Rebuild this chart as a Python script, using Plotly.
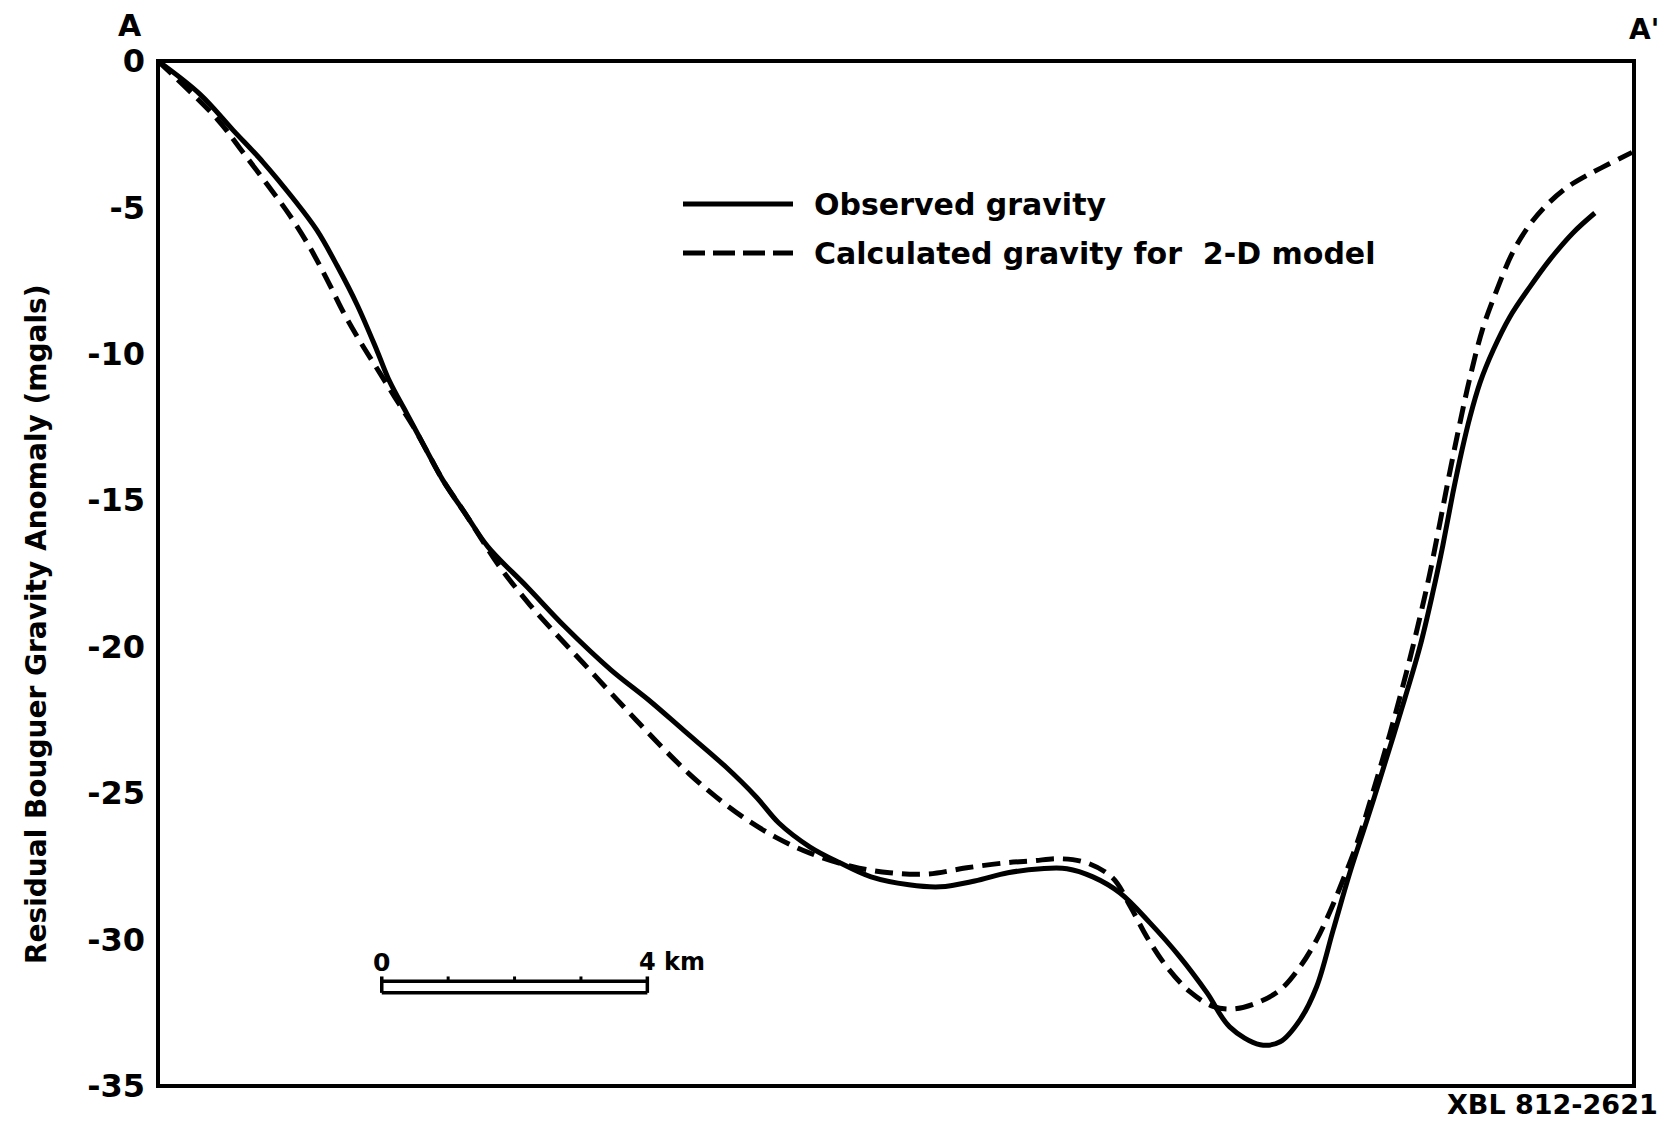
import plotly.graph_objects as go

# ---------------- data (distance along profile A-A' in km, anomaly in mGal) ----------------
obs_x = [0.00, 0.63, 1.13, 1.58, 2.03, 2.39, 2.70, 3.00, 3.30, 3.49, 3.75, 4.05, 4.29, 4.65,
         4.97, 5.56, 6.13, 6.82, 7.39, 7.91, 8.55, 9.01, 9.35, 9.82, 10.27, 10.74, 11.31,
         11.78, 12.30, 12.80, 13.30, 13.69, 14.08, 14.49, 14.94, 15.39, 15.80, 16.14, 16.60,
         16.90, 17.20, 17.45, 17.70, 17.95, 18.21, 18.40, 18.70, 19.00, 19.20, 19.35, 19.50,
         19.64, 19.76, 19.91, 20.11, 20.36, 20.66, 20.96, 21.31, 21.64]
obs_y = [0.00, -1.13, -2.36, -3.45, -4.68, -5.77, -7.00, -8.33, -9.90, -10.95, -12.05, -13.32,
         -14.31, -15.53, -16.59, -17.96, -19.32, -20.79, -21.82, -22.84, -24.10, -25.13, -26.02,
         -26.84, -27.38, -27.86, -28.13, -28.20, -28.00, -27.72, -27.58, -27.58, -27.86, -28.41,
         -29.43, -30.59, -31.82, -32.98, -33.59, -33.49, -32.74, -31.61, -29.67, -27.72, -25.91,
         -24.55, -22.35, -20.05, -18.15, -16.55, -14.78, -13.28, -12.15, -10.99, -9.87, -8.74,
         -7.72, -6.79, -5.87, -5.19]

calc_x = [0.00, 0.89, 1.23, 1.64, 1.99, 2.29, 2.55, 2.79, 3.04, 3.34, 3.60, 3.85, 4.05, 4.29,
          4.65, 4.89, 5.15, 5.60, 6.00, 6.40, 6.80, 7.20, 7.60, 8.00, 8.40, 8.80, 9.30, 9.82,
          10.45, 11.02, 11.60, 12.18, 12.76, 13.18, 13.58, 13.99, 14.38, 14.64, 14.89, 15.20,
          15.54, 15.89, 16.19, 16.55, 16.90, 17.20, 17.45, 17.65, 17.85, 18.06, 18.30, 18.55,
          18.80, 19.00, 19.15, 19.30, 19.45, 19.60, 19.75, 19.95, 20.15, 20.40, 20.65, 20.90,
          21.20, 21.50, 21.85, 22.20]
calc_y = [0.00, -1.98, -2.97, -4.20, -5.29, -6.38, -7.48, -8.57, -9.56, -10.65, -11.60, -12.50,
          -13.32, -14.31, -15.53, -16.39, -17.28, -18.57, -19.58, -20.55, -21.53, -22.50, -23.45,
          -24.34, -25.12, -25.80, -26.50, -27.05, -27.50, -27.72, -27.76, -27.55, -27.38, -27.31,
          -27.24, -27.38, -27.90, -28.85, -29.90, -30.95, -31.78, -32.28, -32.37, -32.16, -31.72,
          -30.93, -30.01, -29.05, -27.95, -26.70, -24.95, -23.00, -20.90, -19.05, -17.55, -15.85,
          -14.10, -12.45, -10.90, -9.15, -7.90, -6.55, -5.62, -4.95, -4.35, -3.93, -3.52, -3.12]

y_tick_vals = [0, -5, -10, -15, -20, -25, -30, -35]
y_tick_text = ["0", "-5", "-10", "-15", "-20", "-25", "-30", "-35"]
x_range = [0, 22.23]
y_range = [-35, 0]

series_names = ["Observed gravity", "Calculated gravity for  2-D model"]
y_title = "Residual Bouguer Gravity Anomaly (mgals)"
corner_left = "A"
corner_right = "A'"
figure_id = "XBL 812-2621"

scale_start_km = 3.37
scale_length_km = 4
scale_ticks_km = [1, 2, 3]
scale_y_top = -31.42
scale_y_bottom = -31.82
scale_tick_top = -31.26

# ---------------- layout geometry ----------------
W, H = 1663, 1128
L, R, T, B = 158, 29, 61, 42
PW, PH = W - L - R, H - T - B
FONT = "DejaVu Sans"


def px(x):
    return (x - L) / PW


def py(y):
    return (H - B - y) / PH


fig = go.Figure()
fig.add_trace(go.Scatter(x=obs_x, y=obs_y, mode="lines", name=series_names[0],
                         line=dict(color="black", width=5, shape="spline", smoothing=1.0),
                         showlegend=False))
fig.add_trace(go.Scatter(x=calc_x, y=calc_y, mode="lines", name=series_names[1],
                         line=dict(color="black", width=5, dash="18px,9px", shape="spline",
                                   smoothing=1.0),
                         showlegend=False))

shapes = []
# plot frame
shapes.append(dict(type="rect", xref="paper", yref="paper", x0=0, x1=1, y0=0, y1=1,
                   line=dict(color="black", width=4), layer="above"))
# legend samples
shapes.append(dict(type="line", xref="paper", yref="paper", x0=px(683), x1=px(793),
                   y0=py(204), y1=py(204), line=dict(color="black", width=5)))
shapes.append(dict(type="line", xref="paper", yref="paper", x0=px(683), x1=px(793),
                   y0=py(253), y1=py(253), line=dict(color="black", width=5, dash="22px,8px")))
# scale bar (in km along the profile)
sx0 = scale_start_km
sx1 = scale_start_km + scale_length_km
for yy in (scale_y_top, scale_y_bottom):
    shapes.append(dict(type="line", xref="x", yref="y", x0=sx0, x1=sx1, y0=yy, y1=yy,
                       line=dict(color="black", width=3.5)))
for xx in (sx0, sx1):
    shapes.append(dict(type="line", xref="x", yref="y", x0=xx, x1=xx, y0=scale_tick_top,
                       y1=scale_y_bottom, line=dict(color="black", width=3.5)))
for t in scale_ticks_km:
    shapes.append(dict(type="line", xref="x", yref="y", x0=sx0 + t, x1=sx0 + t,
                       y0=scale_tick_top, y1=scale_y_top, line=dict(color="black", width=3)))

bold = dict(family=FONT, color="black", weight="bold")
annotations = [
    dict(text=corner_left, x=px(130), y=py(26), xref="paper", yref="paper", showarrow=False,
         xanchor="center", yanchor="middle", font=dict(size=30, **bold)),
    dict(text=corner_right, x=px(1661), y=py(30), xref="paper", yref="paper", showarrow=False,
         xanchor="right", yanchor="middle", font=dict(size=28, **bold)),
    dict(text=figure_id, x=px(1552), y=py(1104), xref="paper", yref="paper", showarrow=False,
         xanchor="center", yanchor="middle", font=dict(size=27, **bold)),
    dict(text=y_title, x=px(36), y=py(625), xref="paper", yref="paper", showarrow=False,
         textangle=-90, xanchor="center", yanchor="middle", font=dict(size=28, **bold)),
    dict(text=series_names[0], x=px(812), y=py(204), xref="paper", yref="paper",
         showarrow=False, xanchor="left", yanchor="middle", font=dict(size=30, **bold)),
    dict(text=series_names[1], x=px(812), y=py(253), xref="paper", yref="paper",
         showarrow=False, xanchor="left", yanchor="middle", font=dict(size=30, **bold)),
    dict(text="0", x=sx0, y=py(962), xref="x", yref="paper", showarrow=False,
         xanchor="center", yanchor="middle", font=dict(size=25, **bold)),
    dict(text="4 km", x=sx1, y=py(962), xref="x", yref="paper", showarrow=False,
         xanchor="left", xshift=-10, yanchor="middle", font=dict(size=24, **bold)),
]

fig.update_layout(
    width=W, height=H,
    margin=dict(l=L, r=R, t=T, b=B, pad=0),
    paper_bgcolor="white", plot_bgcolor="white",
    xaxis=dict(range=x_range, visible=False, showgrid=False, zeroline=False, fixedrange=True),
    yaxis=dict(range=y_range, tickmode="array", tickvals=y_tick_vals, ticktext=y_tick_text,
               showgrid=False, zeroline=False, showline=False, ticks="",
               ticklabelstandoff=12, tickfont=dict(size=32, **bold), fixedrange=True),
    shapes=shapes,
    annotations=annotations,
    showlegend=False,
)

fig.write_html("out.html")
